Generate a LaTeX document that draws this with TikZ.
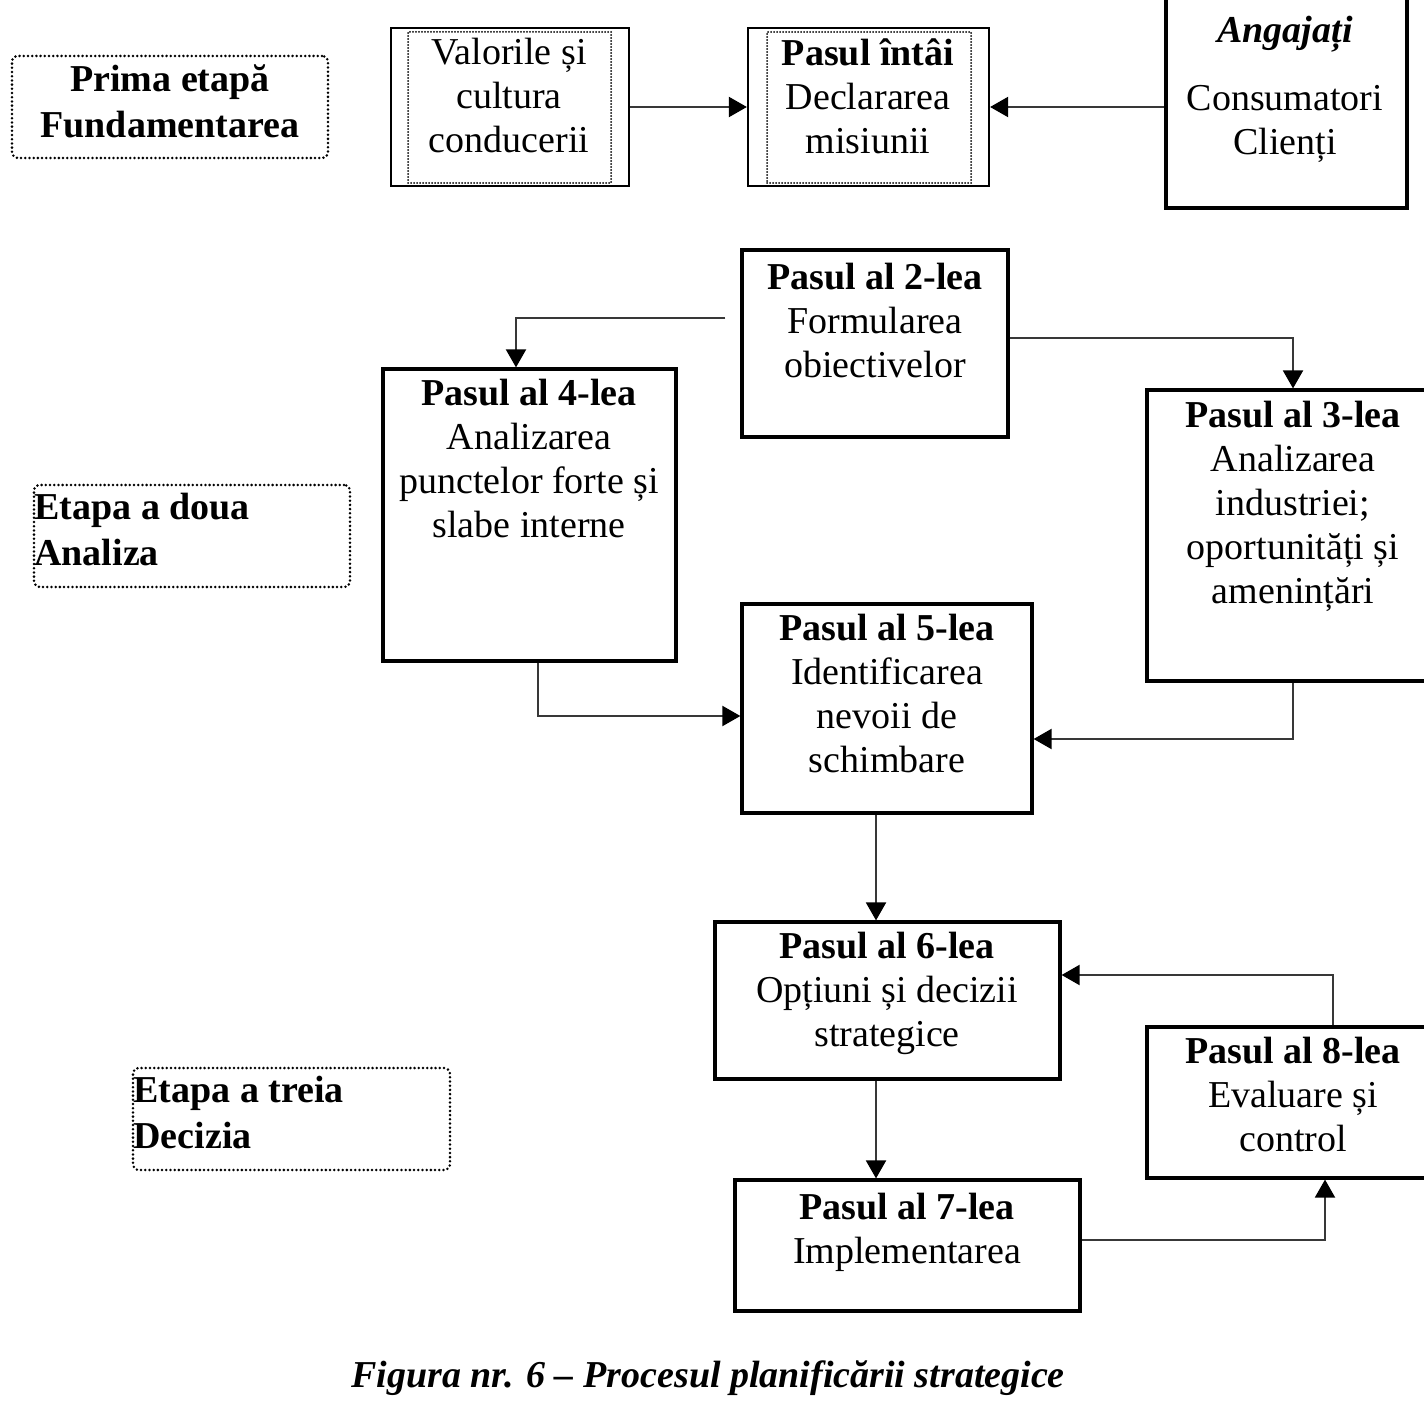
\documentclass[tikz,border=0pt]{standalone}
\usepackage{fontspec}
\setmainfont{Liberation Serif}
\usetikzlibrary{arrows.meta,fit}
\begin{document}
\begin{tikzpicture}[x=0.5pt,y=-0.5pt,
  stepbox/.style={draw=black,line width=1.6pt,inner sep=0pt,fill=none},
  outerbox/.style={draw=black,line width=1.1pt,inner sep=0pt},
  innerdots/.style={draw=black,line width=1pt,dash pattern=on 0pt off 1.5pt,line cap=round,inner sep=0pt},
  etapabox/.style={draw=black,line width=1.4pt,dash pattern=on 0pt off 2.1pt,line cap=round,rounded corners=3pt,inner sep=0pt},
  txt/.style={anchor=north,align=center,inner sep=0pt,font=\fontsize{19pt}{22pt}\selectfont},
  etxt/.style={inner sep=0pt,font=\bfseries\fontsize{19pt}{23pt}\selectfont},
  conn/.style={draw=black!78,line width=1pt,-{Triangle[length=9pt,width=10pt,fill=black,color=black]}}
]
\useasboundingbox (0,0) rectangle (1424,1401);
\fill[white] (0,0) rectangle (1424,1401);

% ---- first stage ----
\node[etapabox,fit={(12,56) (328,158)}] (pe) {};
\node[etxt,align=center,anchor=north] (pet) at (170,64) {Prima etapă\\Fundamentarea};

\node[outerbox,fit={(391,28) (629,186)}] (val) {};
\node[innerdots,fit={(408,32) (611,183)}] (vali) {};
\node[txt] (valt) at (509,38) {Valorile și\\cultura\\conducerii};

\node[outerbox,fit={(748,28) (989,186)}] (p1) {};
\node[innerdots,fit={(767,32) (971,183)}] (p1i) {};
\node[txt] (p1t) at (868,38) {\textbf{Pasul întâi}\\Declararea\\misiunii};

\node[stepbox,fit={(1166,-20) (1407,208)}] (ang) {};
\node[txt] (angt) at (1285,16) {\textbf{\itshape Angajați}\\[12pt]Consumatori\\Clienți};

% ---- second stage ----
\node[stepbox,fit={(742,250) (1008,437)}] (n2) {};
\node[txt] (n2t) at (875,263) {\textbf{Pasul al 2-lea}\\Formularea\\obiectivelor};

\node[stepbox,fit={(383,369) (676,661)}] (n4) {};
\node[txt] (n4t) at (529,379) {\textbf{Pasul al 4-lea}\\Analizarea\\punctelor forte și\\slabe interne};

\node[stepbox,fit={(1147,390) (1450,681)}] (n3) {};
\node[txt] (n3t) at (1293,401) {\textbf{Pasul al 3-lea}\\Analizarea\\industriei;\\oportunități și\\amenințări};

\node[etapabox,fit={(34,485) (350,587)}] (ea2) {};
\node[etxt,align=left,anchor=north west] (ea2t) at (34,493) {Etapa a doua\\Analiza};

\node[stepbox,fit={(742,604) (1032,813)}] (n5) {};
\node[txt] (n5t) at (887,614) {\textbf{Pasul al 5-lea}\\Identificarea\\nevoii de\\schimbare};

% ---- third stage ----
\node[stepbox,fit={(715,922) (1060,1079)}] (n6) {};
\node[txt] (n6t) at (887,932) {\textbf{Pasul al 6-lea}\\Opțiuni și decizii\\strategice};

\node[stepbox,fit={(1147,1027) (1450,1178)}] (n8) {};
\node[txt] (n8t) at (1293,1037) {\textbf{Pasul al 8-lea}\\Evaluare și\\control};

\node[etapabox,fit={(133,1068) (450,1170)}] (ea3) {};
\node[etxt,align=left,anchor=north west] (ea3t) at (133,1076) {Etapa a treia\\Decizia};

\node[stepbox,fit={(735,1180) (1080,1311)}] (n7) {};
\node[txt] (n7t) at (907,1193) {\textbf{Pasul al 7-lea}\\Implementarea};

\node[inner sep=0pt,font=\bfseries\itshape\fontsize{19pt}{22pt}\selectfont] (cap) at (708,1378) {Figura nr. 6 – Procesul planificării strategice};

% ---- connectors ----
\draw[conn] (val.east) -- (p1.west);
\draw[conn] (ang.west |- p1.east) -- (p1.east);
\draw[conn] (n2.west) ++(-15,-25) -| ([xshift=-6.75pt]n4.north);
\draw[conn] (n2.east) ++(0,-5) -| ([xshift=-2.75pt]n3.north);
\draw[conn] ([xshift=4.25pt]n4.south) |- ([yshift=-3.75pt]n5.west);
\draw[conn] ([xshift=-2.75pt]n3.south) |- ([yshift=-15.25pt]n5.east);
\draw[conn] ([xshift=-5.5pt]n5.south) -- ([xshift=-5.5pt]n5.south |- n6.north);
\draw[conn] ([xshift=-5.75pt]n6.south) -- ([xshift=-5.75pt]n6.south |- n7.north);
\draw[conn] ([yshift=2.75pt]n7.east) -| ([xshift=13.25pt]n8.south);
\draw[conn] ([xshift=17.25pt]n8.north) |- ([yshift=12.75pt]n6.east);
\end{tikzpicture}
\end{document}
